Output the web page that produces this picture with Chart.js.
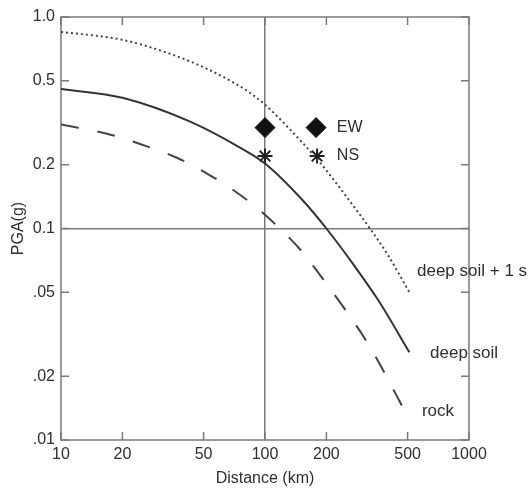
<!DOCTYPE html>
<html>
<head>
<meta charset="utf-8">
<script src="https://cdn.jsdelivr.net/npm/chart.js@4"></script>
<style>
  body { margin: 0; background: #fff; }
</style>
</head>
<body>
<canvas id="pgaChart" width="530" height="489"></canvas>
<script>
// Curves: distance (km) vs PGA (g)
let soil1sDist = [10, 20, 35, 52, 70, 85, 100, 133, 186, 250, 327, 400, 510];
let soil1sPga  = [0.85, 0.78, 0.665, 0.569, 0.49, 0.436, 0.385, 0.293, 0.205, 0.142, 0.10, 0.075, 0.05];

let soilDist = [10, 20, 43, 75, 100, 153, 200, 270, 358, 510];
let soilPga  = [0.457, 0.415, 0.32, 0.242, 0.203, 0.136, 0.10, 0.068, 0.046, 0.026];

let rockDist = [10, 17, 25, 37, 54, 78, 100, 118, 148, 194, 320, 510];
let rockPga  = [0.31, 0.28, 0.249, 0.216, 0.178, 0.141, 0.116, 0.10, 0.08, 0.057, 0.0285, 0.0125];

// recorded values
let ewDist = [100, 178];
let ewPga  = [0.30, 0.30];
let nsDist = [100, 180];
let nsPga  = [0.22, 0.22];

// axis ticks
let xTicks = [10, 20, 50, 100, 200, 500, 1000];
let xTickLabels = ["10", "20", "50", "100", "200", "500", "1000"];
let yTicks = [0.01, 0.02, 0.05, 0.1, 0.2, 0.5, 1];
let yTickLabels = [".01", ".02", ".05", "0.1", "0.2", "0.5", "1.0"];

function pairs(xs, ys){
  return xs.map((v, i) => ({ x: v, y: ys[i] }));
}

const FONT = '"Liberation Sans", Arial, sans-serif';
const TEXT = "#2e2e2e";
const FRAME = "#7a7a7a";

// text placed next to curves and markers (data units)
let notes = [
  { text: "deep soil + 1 s", x: 556, y: 0.0627, size: 17 },
  { text: "deep soil", x: 644, y: 0.0257, size: 17 },
  { text: "rock", x: 588, y: 0.0137, size: 17 },
  { text: "EW", x: 225, y: 0.30, size: 16 },
  { text: "NS", x: 225, y: 0.22, size: 16 }
];

const framePlugin = {
  id: "frame",
  beforeDatasetsDraw(chart){
    const { ctx, chartArea: a, scales } = chart;
    ctx.save();
    ctx.strokeStyle = FRAME;
    ctx.lineWidth = 1.5;
    ctx.strokeRect(a.left, a.top, a.right - a.left, a.bottom - a.top);
    ctx.beginPath();
    xTicks.forEach(v => {
      let px = scales.x.getPixelForValue(v);
      ctx.moveTo(px, a.bottom); ctx.lineTo(px, a.bottom - 8);
      ctx.moveTo(px, a.top); ctx.lineTo(px, a.top + 8);
    });
    yTicks.forEach(v => {
      let py = scales.y.getPixelForValue(v);
      ctx.moveTo(a.left, py); ctx.lineTo(a.left + 8, py);
      ctx.moveTo(a.right, py); ctx.lineTo(a.right - 8, py);
    });
    ctx.stroke();
    ctx.restore();
  },
  afterDraw(chart){
    const { ctx, scales } = chart;
    ctx.save();
    ctx.fillStyle = TEXT;
    ctx.textBaseline = "middle";
    ctx.textAlign = "left";
    notes.forEach(n => {
      ctx.font = n.size + "px " + FONT;
      ctx.fillText(n.text, scales.x.getPixelForValue(n.x), scales.y.getPixelForValue(n.y));
    });
    ctx.restore();
  }
};

new Chart(document.getElementById("pgaChart"), {
  type: "line",
  data: {
    datasets: [
      {
        label: "deep soil + 1 s",
        data: pairs(soil1sDist, soil1sPga),
        borderColor: "#444",
        borderWidth: 2,
        borderDash: [2, 3],
        pointRadius: 0,
        cubicInterpolationMode: "monotone"
      },
      {
        label: "deep soil",
        data: pairs(soilDist, soilPga),
        borderColor: "#333",
        borderWidth: 2,
        pointRadius: 0,
        cubicInterpolationMode: "monotone"
      },
      {
        label: "rock",
        data: pairs(rockDist, rockPga),
        borderColor: "#444",
        borderWidth: 2,
        borderDash: [18, 19],
        pointRadius: 0,
        cubicInterpolationMode: "monotone"
      },
      {
        label: "EW",
        data: pairs(ewDist, ewPga),
        showLine: false,
        pointStyle: "rectRot",
        pointRadius: 10,
        backgroundColor: "#111",
        borderColor: "#111",
        borderWidth: 1
      },
      {
        label: "NS",
        data: pairs(nsDist, nsPga),
        showLine: false,
        pointStyle: "star",
        pointRadius: 7.5,
        borderColor: "#222",
        borderWidth: 2
      }
    ]
  },
  options: {
    responsive: false,
    animation: false,
    devicePixelRatio: 1,
    layout: { padding: { top: 17, right: 61, left: 0, bottom: 0 } },
    plugins: {
      legend: { display: false },
      tooltip: { enabled: false }
    },
    scales: {
      x: {
        type: "logarithmic",
        min: 10,
        max: 1000,
        afterBuildTicks: s => { s.ticks = xTicks.map(v => ({ value: v })); },
        afterFit: s => { s.height = 49; },
        grid: {
          drawTicks: false,
          color: c => (c.tick && c.tick.value === 100 ? FRAME : "transparent"),
          lineWidth: 1.5
        },
        border: { display: false },
        ticks: {
          autoSkip: false,
          maxRotation: 0,
          padding: 5,
          color: TEXT,
          font: { family: FONT, size: 16 },
          callback: (v, i) => xTickLabels[i]
        },
        title: {
          display: true,
          text: "Distance (km)",
          color: TEXT,
          font: { family: FONT, size: 16 },
          padding: { top: 0, bottom: 1 }
        }
      },
      y: {
        type: "logarithmic",
        min: 0.01,
        max: 1,
        afterBuildTicks: s => { s.ticks = yTicks.map(v => ({ value: v })); },
        afterFit: s => { s.width = 61; },
        grid: {
          drawTicks: false,
          color: c => (c.tick && c.tick.value === 0.1 ? FRAME : "transparent"),
          lineWidth: 1.5
        },
        border: { display: false },
        ticks: {
          autoSkip: false,
          padding: 6,
          color: TEXT,
          font: { family: FONT, size: 16 },
          callback: (v, i) => yTickLabels[i]
        },
        title: {
          display: true,
          text: "PGA(g)",
          color: TEXT,
          font: { family: FONT, size: 16 },
          padding: { top: 9, bottom: 0 }
        }
      }
    }
  },
  plugins: [framePlugin]
});
</script>
</body>
</html>
